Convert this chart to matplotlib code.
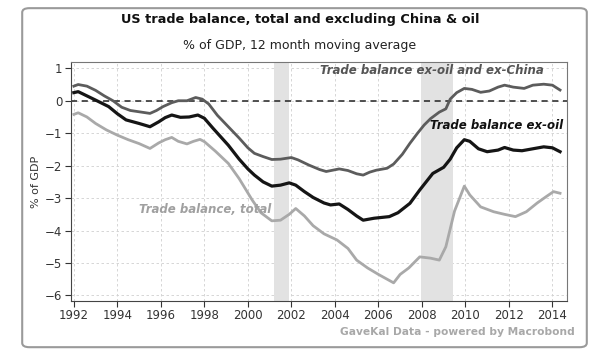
import numpy as np
import matplotlib
matplotlib.use("Agg")
import matplotlib.pyplot as plt
from matplotlib.patches import FancyBboxPatch

# trade balance ex-oil and ex-China, % of GDP
ex_china_x = [1992.0, 1992.2, 1992.6, 1993.0, 1993.4, 1993.8, 1994.2, 1994.6, 1995.0, 1995.5,
              1995.8, 1996.1, 1996.5, 1996.8, 1997.2, 1997.6, 1997.9, 1998.2, 1998.6, 1999.1,
              1999.6, 2000.0, 2000.3, 2000.7, 2001.1, 2001.5, 2002.0, 2002.3, 2002.8, 2003.3,
              2003.6, 2004.2, 2004.6, 2005.0, 2005.3, 2005.6, 2005.9, 2006.4, 2006.7, 2007.1,
              2007.45, 2007.8, 2008.1, 2008.4, 2008.8, 2009.1, 2009.3, 2009.6, 2009.95, 2010.3,
              2010.7, 2011.1, 2011.5, 2011.8, 2012.2, 2012.7, 2013.1, 2013.6, 2014.0, 2014.35]
ex_china_y = [0.45, 0.50, 0.45, 0.32, 0.15, 0.00, -0.20, -0.30, -0.34, -0.39,
              -0.30, -0.18, -0.06, 0.00, 0.00, 0.10, 0.05, -0.10, -0.45, -0.80,
              -1.15, -1.45, -1.62, -1.72, -1.81, -1.80, -1.75, -1.82, -1.98, -2.12,
              -2.18, -2.10, -2.15, -2.25, -2.29, -2.20, -2.14, -2.08, -1.95, -1.65,
              -1.31, -1.00, -0.75, -0.55, -0.35, -0.25, 0.05, 0.25, 0.38, 0.35,
              0.26, 0.30, 0.42, 0.48, 0.42, 0.38, 0.48, 0.51, 0.48, 0.33]

# trade balance ex-oil
ex_oil_x = [1992.0, 1992.2, 1992.6, 1993.0, 1993.6, 1994.0, 1994.4, 1995.0, 1995.5, 1995.9,
            1996.2, 1996.5, 1996.9, 1997.3, 1997.7, 1998.0, 1998.4, 1999.1, 1999.6, 2000.0,
            2000.3, 2000.7, 2001.1, 2001.5, 2001.9, 2002.2, 2002.6, 2003.0, 2003.5, 2003.8,
            2004.2, 2004.6, 2005.0, 2005.3, 2005.8, 2006.5, 2006.9, 2007.45, 2007.9, 2008.5,
            2009.0, 2009.3, 2009.6, 2009.95, 2010.2, 2010.6, 2011.0, 2011.5, 2011.8, 2012.2,
            2012.6, 2013.1, 2013.6, 2014.0, 2014.35]
ex_oil_y = [0.25, 0.28, 0.15, 0.02, -0.18, -0.40, -0.59, -0.70, -0.80, -0.65,
            -0.52, -0.44, -0.51, -0.50, -0.44, -0.54, -0.85, -1.37, -1.80, -2.10,
            -2.29, -2.50, -2.63, -2.60, -2.53, -2.60, -2.80, -2.98, -3.15, -3.21,
            -3.18, -3.35, -3.55, -3.68, -3.62, -3.57, -3.45, -3.16, -2.75, -2.24,
            -2.05, -1.80, -1.45, -1.20, -1.25, -1.48, -1.57, -1.52, -1.44, -1.52,
            -1.54, -1.48, -1.42, -1.45, -1.57]

# trade balance, total
total_x = [1992.0, 1992.2, 1992.6, 1993.0, 1993.5, 1994.0, 1994.5, 1995.0, 1995.5, 1995.9,
           1996.2, 1996.5, 1996.8, 1997.2, 1997.5, 1997.8, 1998.0, 1998.5, 1999.1, 1999.6,
           2000.2, 2000.6, 2001.1, 2001.5, 2001.9, 2002.2, 2002.6, 2003.0, 2003.5, 2004.1,
           2004.6, 2005.0, 2005.5, 2006.0, 2006.7, 2007.0, 2007.4, 2007.9, 2008.4, 2008.8,
           2009.1, 2009.5, 2009.95, 2010.2, 2010.7, 2011.3, 2011.8, 2012.3, 2012.8, 2013.3,
           2013.7, 2014.05, 2014.35]
total_y = [-0.42, -0.37, -0.50, -0.70, -0.90, -1.06, -1.20, -1.32, -1.47, -1.30,
           -1.20, -1.13, -1.25, -1.33, -1.25, -1.19, -1.26, -1.55, -1.93, -2.40,
           -3.06, -3.45, -3.70, -3.68, -3.50, -3.32, -3.55, -3.85, -4.10, -4.29,
           -4.55, -4.91, -5.15, -5.35, -5.61, -5.35, -5.15, -4.81, -4.85, -4.91,
           -4.50, -3.40, -2.63, -2.90, -3.27, -3.42, -3.50, -3.57, -3.42, -3.15,
           -2.96, -2.80, -2.85]

# recessions
recessions = [(2001.2, 2001.9), (2007.95, 2009.45)]

year_ticks = list(range(1992, 2015, 2))
y_ticks = [1, 0, -1, -2, -3, -4, -5, -6]

fig = plt.figure(figsize=(6, 3.55), dpi=100)
fig.patches.append(FancyBboxPatch((0.037, 0.022), 0.941, 0.955,
                                  boxstyle="round,pad=0,rounding_size=0.012",
                                  transform=fig.transFigure, fc="none",
                                  ec="#9a9a9a", lw=1.5, zorder=-1))

ax = fig.add_axes([0.118, 0.153, 0.827, 0.672])

for a, b in recessions:
    ax.axvspan(a, b, color="#e2e2e2", lw=0, zorder=1)

ax.axhline(0, color="#222222", lw=1.1, ls=(0, (4, 3)), zorder=2)

ax.plot(total_x, total_y, color="#a9a9a9", lw=2.0, zorder=3)
ax.plot(ex_china_x, ex_china_y, color="#5c5c5c", lw=2.0, zorder=4)
ax.plot(ex_oil_x, ex_oil_y, color="#151515", lw=2.3, zorder=5)

ax.text(2008.45, 0.93, "Trade balance ex-oil and ex-China", color="#555555",
        fontsize=8.5, fontweight="bold", style="italic", ha="center", va="center", zorder=6)
ax.text(2014.5, -0.77, "Trade balance ex-oil", color="#111111",
        fontsize=8.5, fontweight="bold", style="italic", ha="right", va="center", zorder=6)
ax.text(1995.0, -3.35, "Trade balance, total", color="#a0a0a0",
        fontsize=8.5, fontweight="bold", style="italic", ha="left", va="center", zorder=6)

ax.set_xlim(1991.86, 2014.67)
ax.set_ylim(-6.16, 1.19)
ax.set_xticks(year_ticks)
ax.set_yticks(y_ticks)
ax.grid(True, color="#d0d0d0", lw=0.6, ls=(0, (3, 3)))
ax.set_axisbelow(True)
ax.tick_params(labelsize=8.5, colors="#333333", length=4, direction="out", pad=2)
ax.spines["left"].set_color("#444444")
ax.spines["bottom"].set_color("#444444")
ax.spines["top"].set_color("#777777")
ax.spines["right"].set_color("#777777")
ax.set_ylabel("% of GDP", fontsize=8, color="#333333", labelpad=3)

fig.text(0.5, 0.945, "US trade balance, total and excluding China & oil",
         fontsize=9.3, fontweight="bold", ha="center", va="center", color="#111111")
fig.text(0.5, 0.873, "% of GDP, 12 month moving average",
         fontsize=9.0, ha="center", va="center", color="#222222")
fig.text(0.958, 0.065, "GaveKal Data - powered by Macrobond", fontsize=7.7,
         fontweight="bold", ha="right", va="center", color="#a8a8a8")

fig.savefig("out.png", dpi=100)
